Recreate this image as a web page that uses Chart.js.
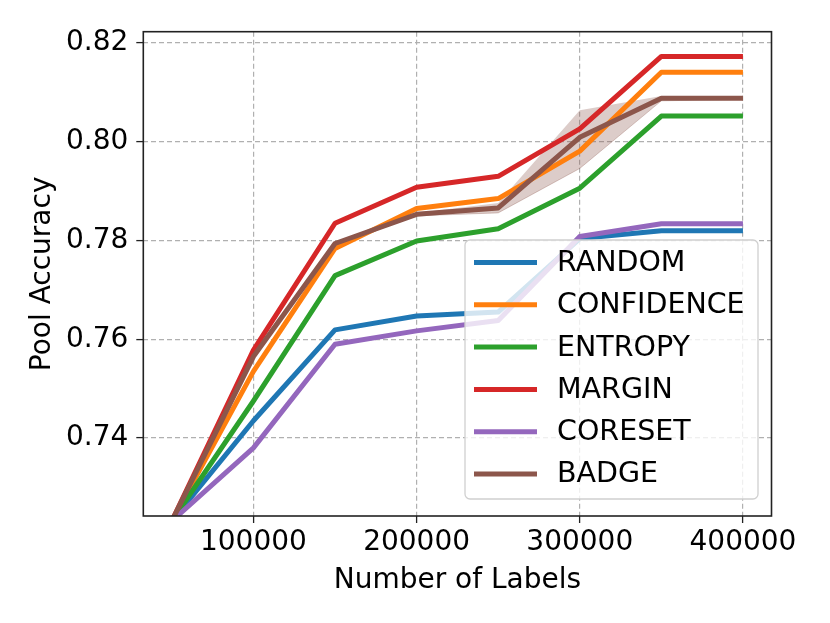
<!DOCTYPE html>
<html>
<head>
<meta charset="utf-8">
<script src="https://cdn.jsdelivr.net/npm/chart.js@4.4.0/dist/chart.umd.min.js"></script>
<style>
  html, body { margin: 0; padding: 0; background: #fff; }
  #wrap { width: 830px; height: 623px; }
</style>
</head>
<body>
<div id="wrap"><canvas id="myChart" width="830" height="623"></canvas></div>
<script>
// number of labels (x) and pool accuracy per method
const numLabels = [50000, 100000, 150000, 200000, 250000, 300000, 350000, 400000];
const randomAcc     = [0.7232, 0.7435, 0.7619, 0.7647, 0.7655, 0.7804, 0.7820, 0.7820];
const confidenceAcc = [0.7232, 0.7535, 0.7784, 0.7865, 0.7885, 0.7981, 0.8141, 0.8141];
const entropyAcc    = [0.7232, 0.7475, 0.7729, 0.7799, 0.7824, 0.7906, 0.8052, 0.8052];
const marginAcc     = [0.7232, 0.7578, 0.7835, 0.7908, 0.7930, 0.8026, 0.8173, 0.8173];
const coresetAcc    = [0.7232, 0.7380, 0.7590, 0.7617, 0.7638, 0.7808, 0.7834, 0.7834];
const badgeAcc      = [0.7232, 0.7565, 0.7794, 0.7853, 0.7866, 0.8009, 0.8088, 0.8088];
// shaded band around BADGE
const badgeUpper    = [0.7232, 0.7567, 0.7797, 0.7856, 0.7876, 0.8064, 0.8093, 0.8090];
const badgeLower    = [0.7232, 0.7563, 0.7791, 0.7850, 0.7856, 0.7946, 0.8083, 0.8086];

const methodNames = ['RANDOM', 'CONFIDENCE', 'ENTROPY', 'MARGIN', 'CORESET', 'BADGE'];
const xTicks = [100000, 200000, 300000, 400000];
const yTicks = [0.74, 0.76, 0.78, 0.80, 0.82];

const colors = ['#1f77b4', '#ff7f0e', '#2ca02c', '#d62728', '#9467bd', '#8c564b'];
const series = [randomAcc, confidenceAcc, entropyAcc, marginAcc, coresetAcc, badgeAcc];
const FONT = 'DejaVu Sans';

function toPoints(vals) {
    return vals.map((v, i) => ({ x: numLabels[i], y: v }));
}

const datasets = [];
// band first (drawn underneath)
datasets.push({
    label: 'band_up', data: toPoints(badgeUpper), borderWidth: 0, pointRadius: 0,
    borderColor: 'rgba(0,0,0,0)', fill: false, order: 20, clip: 0
});
datasets.push({
    label: 'band_low', data: toPoints(badgeLower), borderWidth: 1,
    borderColor: 'rgba(140,86,75,0.3)', pointRadius: 0,
    backgroundColor: 'rgba(140,86,75,0.3)', fill: '-1', order: 19, clip: 0
});
series.forEach((vals, i) => {
    datasets.push({
        label: methodNames[i],
        data: toPoints(vals),
        borderColor: colors[i],
        backgroundColor: colors[i],
        borderWidth: 5,
        pointRadius: 0,
        tension: 0,
        fill: false,
        borderJoinStyle: 'round',
        borderCapStyle: 'butt',
        order: 10 - i,   // later series on top, like matplotlib
        clip: 0
    });
});

// frame + legend box inside the plot
const framePlugin = {
    id: 'frame',
    afterDatasetsDraw(chart) {
        const ctx = chart.ctx;
        const a = chart.chartArea;
        ctx.save();
        // legend
        const lx = 465, ly = 240, lw = 293, lh = 259;
        ctx.beginPath();
        ctx.roundRect(lx, ly, lw, lh, 5);
        ctx.fillStyle = 'rgba(255,255,255,0.8)';
        ctx.fill();
        ctx.strokeStyle = '#d0d0d0';
        ctx.lineWidth = 1.3;
        ctx.stroke();
        ctx.font = '28.5px "' + FONT + '"';
        ctx.textBaseline = 'middle';
        ctx.textAlign = 'left';
        methodNames.forEach((name, i) => {
            const y = 262.5 + i * 42.3;
            ctx.beginPath();
            ctx.moveTo(474, y);
            ctx.lineTo(537, y);
            ctx.strokeStyle = colors[i];
            ctx.lineWidth = 5;
            ctx.stroke();
            ctx.fillStyle = '#000';
            ctx.fillText(name, 557, y + 1);
        });
        // spines
        ctx.strokeStyle = '#222';
        ctx.lineWidth = 1.6;
        ctx.strokeRect(a.left, a.top, a.right - a.left, a.bottom - a.top);
        ctx.restore();
    }
};

const gridOpts = {
    color: '#b0b0b0', lineWidth: 1.2,
    drawTicks: true, tickLength: 7, tickColor: '#222', tickWidth: 1.3,
    tickBorderDash: [0, 0]
};

const ctx = document.getElementById('myChart').getContext('2d');
new Chart(ctx, {
    type: 'line',
    data: { datasets: datasets },
    options: {
        responsive: false,
        animation: false,
        devicePixelRatio: 1,
        layout: { padding: { left: 0, right: 58.5, top: 31.7, bottom: 0 } },
        plugins: {
            legend: { display: false },
            tooltip: { enabled: false }
        },
        scales: {
            x: {
                type: 'linear',
                min: 32500,
                max: 417500,
                afterFit(scale) { scale.height = 107; },
                afterBuildTicks(scale) { scale.ticks = xTicks.map(v => ({ value: v })); },
                border: { display: false, dash: [5, 3] },
                grid: gridOpts,
                ticks: {
                    color: '#000', padding: 3, maxRotation: 0,
                    font: { family: FONT, size: 28 },
                    callback: v => String(v)
                },
                title: {
                    display: true, text: 'Number of Labels', color: '#000',
                    font: { family: FONT, size: 28 }, padding: { top: 0, bottom: 25 }
                }
            },
            y: {
                type: 'linear',
                min: 0.7242,
                max: 0.8223,
                afterFit(scale) { scale.width = 143.3; },
                afterBuildTicks(scale) { scale.ticks = yTicks.map(v => ({ value: v })); },
                border: { display: false, dash: [5, 3] },
                grid: gridOpts,
                ticks: {
                    color: '#000', padding: 8,
                    font: { family: FONT, size: 28 },
                    callback: v => v.toFixed(2)
                },
                title: {
                    display: true, text: 'Pool Accuracy', color: '#000',
                    font: { family: FONT, size: 28 }, padding: { top: 26, bottom: 0 }
                }
            }
        }
    },
    plugins: [framePlugin]
});
</script>
</body>
</html>
